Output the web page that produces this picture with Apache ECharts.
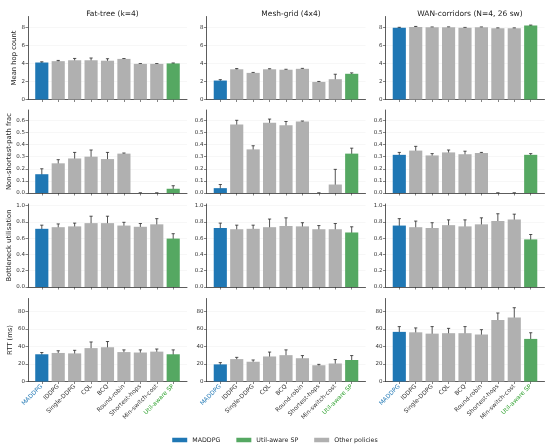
<!DOCTYPE html>
<html>
<head>
<meta charset="utf-8">
<script src="https://cdn.jsdelivr.net/npm/echarts@6/dist/echarts.min.js"></script>
<style>
  html, body { margin: 0; padding: 0; background: #fff; }
  #chart { width: 550px; height: 444px; }
</style>
</head>
<body>
<div id="chart"></div>
<script>
const policies = ['MADDPG', 'IDDPG', 'Single-DDPG', 'CQL', 'BCQ', 'Round-robin', 'Shortest-hops', 'Min-switch-cost', 'Util-aware SP'];
const topologies = ['Fat-tree (k=4)', 'Mesh-grid (4x4)', 'WAN-corridors (N=4, 26 sw)'];
const metrics = ['Mean hop count', 'Non-shortest-path frac', 'Bottleneck utilisation', 'RTT (ms)'];
const yMax = [9.2, 0.685, 1.02, 94.5];
const yTicks = [
  [0, 2, 4, 6, 8],
  [0, 0.1, 0.2, 0.3, 0.4, 0.5, 0.6],
  [0, 0.2, 0.4, 0.6, 0.8, 1.0],
  [0, 20, 40, 60, 80]
];
const yDecimals = [0, 1, 1, 0];

// mean hop count
const hopFat = [4.1, 4.25, 4.35, 4.35, 4.3, 4.5, 3.95, 3.95, 4.0];
const hopFatErr = [0.08, 0.08, 0.2, 0.25, 0.22, 0.04, 0.03, 0.03, 0.05];
const hopMesh = [2.1, 3.35, 2.95, 3.35, 3.3, 3.4, 1.95, 2.25, 2.85];
const hopMeshErr = [0.1, 0.08, 0.05, 0.06, 0.05, 0.05, 0.05, 0.55, 0.1];
const hopWan = [7.95, 8.05, 8.0, 8.0, 7.95, 8.0, 7.9, 7.9, 8.2];
const hopWanErr = [0.05, 0.05, 0.04, 0.05, 0.04, 0.04, 0.04, 0.04, 0.05];

// non-shortest-path fraction
const nspFat = [0.155, 0.245, 0.285, 0.30, 0.28, 0.325, 0, 0, 0.035];
const nspFatErr = [0.045, 0.03, 0.05, 0.055, 0.055, 0.005, 0, 0, 0.025];
const nspMesh = [0.04, 0.565, 0.36, 0.58, 0.56, 0.59, 0, 0.07, 0.325];
const nspMeshErr = [0.03, 0.035, 0.03, 0.03, 0.03, 0.004, 0, 0.125, 0.045];
const nspWan = [0.315, 0.35, 0.31, 0.335, 0.32, 0.33, 0, 0, 0.315];
const nspWanErr = [0.02, 0.035, 0.015, 0.02, 0.025, 0.005, 0, 0, 0.01];

// bottleneck utilisation
const utilFat = [0.715, 0.735, 0.745, 0.785, 0.785, 0.755, 0.74, 0.77, 0.595];
const utilFatErr = [0.045, 0.04, 0.04, 0.085, 0.085, 0.04, 0.04, 0.07, 0.06];
const utilMesh = [0.725, 0.71, 0.715, 0.735, 0.75, 0.745, 0.71, 0.71, 0.67];
const utilMeshErr = [0.06, 0.05, 0.045, 0.1, 0.1, 0.045, 0.045, 0.07, 0.07];
const utilWan = [0.755, 0.735, 0.725, 0.76, 0.745, 0.77, 0.81, 0.83, 0.585];
const utilWanErr = [0.085, 0.075, 0.065, 0.065, 0.08, 0.08, 0.09, 0.065, 0.06];

// RTT (ms)
const rttFat = [31, 32.5, 32, 38, 39, 33.5, 33, 34, 31];
const rttFatErr = [2, 2.5, 3.5, 7, 6.5, 2.5, 3, 3, 5];
const rttMesh = [19.5, 25.5, 22.5, 28.5, 30, 26.5, 18.5, 20.5, 24.5];
const rttMeshErr = [2, 2, 2, 5, 6, 3, 1, 4.5, 5];
const rttWan = [56.5, 56, 54.5, 55, 55, 53.5, 70, 73, 48.5];
const rttWanErr = [6, 5, 8, 5.5, 7.5, 5.5, 8, 11, 7];

const panels = [
  [[hopFat, hopFatErr], [hopMesh, hopMeshErr], [hopWan, hopWanErr]],
  [[nspFat, nspFatErr], [nspMesh, nspMeshErr], [nspWan, nspWanErr]],
  [[utilFat, utilFatErr], [utilMesh, utilMeshErr], [utilWan, utilWanErr]],
  [[rttFat, rttFatErr], [rttMesh, rttMeshErr], [rttWan, rttWanErr]]
];

const BLUE = '#1f77b4', GREEN = '#55a862', GREY = '#b0b0b0';
const INK = '#333333';
const gridLeft = [28, 206.5, 385.5];
const gridTop = [16.5, 110, 204, 298.5];
const gridW = 159, gridH = 83;
const xMin = -0.84, xMax = 8.84;
const barW = 0.8 * gridW / (xMax - xMin);
const idx = policies.map((p, i) => i);

const grids = [], xAxes = [], yAxes = [], series = [];
const titles = topologies.map((t, c) => ({
  text: t,
  left: gridLeft[c] + gridW / 2,
  top: 5,
  textAlign: 'center',
  textStyle: { fontFamily: 'DejaVu Sans', fontSize: 7.5, fontWeight: 'normal', color: '#222' }
}));

panels.forEach((row, r) => {
  row.forEach(([vals, errs], c) => {
    const k = grids.length;
    const last = r === panels.length - 1;
    grids.push({ left: gridLeft[c], top: gridTop[r], width: gridW, height: gridH });
    xAxes.push({
      type: 'value', gridIndex: k, min: xMin, max: xMax,
      axisLine: { onZero: false, lineStyle: { color: INK, width: 0.8 } },
      axisTick: { customValues: idx, length: 2.5, lineStyle: { color: INK, width: 0.6 } },
      axisLabel: {
        show: last, customValues: idx, rotate: 45, margin: 4,
        fontFamily: 'DejaVu Sans', fontSize: 6,
        formatter: v => policies[v] || '',
        color: v => (v === '0' ? BLUE : v === '8' ? '#2ca02c' : INK)
      },
      splitLine: { show: false }
    });
    yAxes.push({
      type: 'value', gridIndex: k, min: 0, max: yMax[r],
      name: c === 0 ? metrics[r] : '',
      nameLocation: 'middle', nameGap: 10,
      nameTextStyle: { fontFamily: 'DejaVu Sans', fontSize: 6.8, color: '#222' },
      axisLine: { show: true, onZero: false, lineStyle: { color: INK, width: 0.8 } },
      axisTick: { show: true, customValues: yTicks[r], length: 2.5, lineStyle: { color: INK, width: 0.6 } },
      axisLabel: {
        customValues: yTicks[r], margin: 3,
        fontFamily: 'DejaVu Sans', fontSize: 5.5, color: INK,
        formatter: v => v.toFixed(yDecimals[r])
      },
      splitLine: { show: true, lineStyle: { color: '#efefef', width: 0.5 } }
    });
    const groups = [
      ['MADDPG', BLUE, [0]],
      ['Util-aware SP', GREEN, [8]],
      ['Other policies', GREY, [1, 2, 3, 4, 5, 6, 7]]
    ];
    groups.forEach(([name, color, which]) => {
      series.push({
        name, type: 'bar', xAxisIndex: k, yAxisIndex: k,
        barWidth: barW, barGap: '-100%',
        itemStyle: { color },
        data: which.map(i => [i, vals[i]])
      });
    });
    series.push({
      type: 'custom', xAxisIndex: k, yAxisIndex: k, clip: true,
      encode: { x: 0, y: 1 },
      data: vals.map((v, i) => [i, v, errs[i]]),
      renderItem: (params, api) => {
        const x = api.value(0), v = api.value(1), e = api.value(2);
        const top = api.coord([x, v + e]);
        const bot = api.coord([x, v - e]);
        const cap = 1.6;
        const st = { stroke: '#2a2a2a', lineWidth: 0.8 };
        return {
          type: 'group',
          children: [
            { type: 'line', shape: { x1: top[0], y1: top[1], x2: bot[0], y2: bot[1] }, style: st },
            { type: 'line', shape: { x1: top[0] - cap, y1: top[1], x2: top[0] + cap, y2: top[1] }, style: st },
            { type: 'line', shape: { x1: bot[0] - cap, y1: bot[1], x2: bot[0] + cap, y2: bot[1] }, style: st }
          ]
        };
      }
    });
  });
});

const chart = echarts.init(document.getElementById('chart'));
chart.setOption({
  animation: false,
  backgroundColor: '#fff',
  title: titles,
  legend: {
    data: ['MADDPG', 'Util-aware SP', 'Other policies'],
    left: 'center', top: 432,
    icon: 'rect', itemWidth: 15, itemHeight: 4.5, itemGap: 16,
    textStyle: { fontFamily: 'DejaVu Sans', fontSize: 6.3, color: '#222' }
  },
  grid: grids,
  xAxis: xAxes,
  yAxis: yAxes,
  series
});
</script>
</body>
</html>
